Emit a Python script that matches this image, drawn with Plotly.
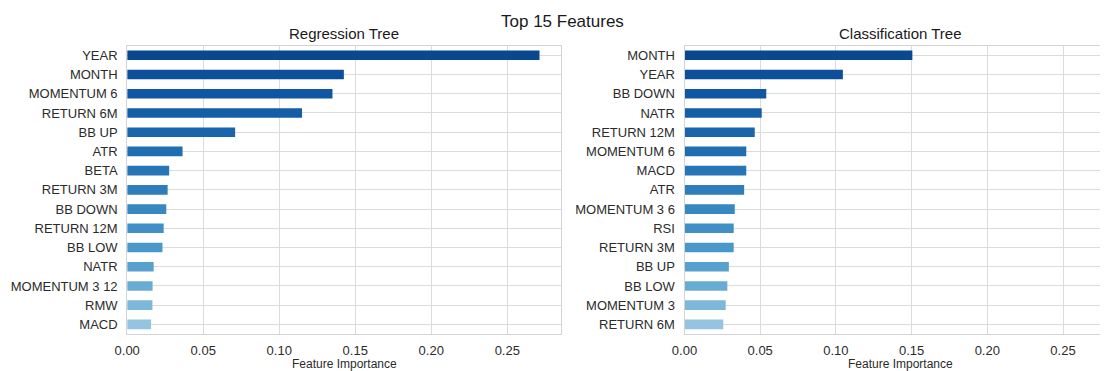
import plotly.graph_objects as go

# ---- data ----
reg_features = ["YEAR", "MONTH", "MOMENTUM 6", "RETURN 6M", "BB UP", "ATR", "BETA",
                "RETURN 3M", "BB DOWN", "RETURN 12M", "BB LOW", "NATR",
                "MOMENTUM 3 12", "RMW", "MACD"]
reg_importance = [0.2712, 0.1425, 0.1350, 0.1150, 0.0710, 0.0364, 0.0276,
                  0.0266, 0.0257, 0.0240, 0.0232, 0.0174, 0.0167, 0.0166, 0.0157]

clf_features = ["MONTH", "YEAR", "BB DOWN", "NATR", "RETURN 12M", "MOMENTUM 6", "MACD",
                "ATR", "MOMENTUM 3 6", "RSI", "RETURN 3M", "BB UP", "BB LOW",
                "MOMENTUM 3", "RETURN 6M"]
clf_importance = [0.1505, 0.1046, 0.0540, 0.0510, 0.0464, 0.0408, 0.0408,
                  0.0394, 0.0332, 0.0325, 0.0325, 0.0293, 0.0283, 0.0272, 0.0256]

x_ticks = [0.00, 0.05, 0.10, 0.15, 0.20, 0.25]
x_tick_labels = ["0.00", "0.05", "0.10", "0.15", "0.20", "0.25"]

# ---- styles ----
bar_colors = ["#09478f", "#0c4f9b", "#1056a2", "#145ea8", "#1966ad", "#1f6eb2",
              "#2676b7", "#2e7ebc", "#3787c0", "#4090c5", "#4a98c9", "#58a1ce",
              "#68acd4", "#7db8da", "#94c4df"]
PAGE_OFF = 8  # default body margin of the html page
W, H = 1108 - PAGE_OFF, 371 - PAGE_OFF
FONT = "Arial, Liberation Sans, sans-serif"
TXT = "#2b2b2b"
GRID = "#dcdcdc"
FRAME = "#d4d4d4"

def px_x(p):
    return (p - PAGE_OFF) / W

def px_y(p):
    return (H - (p - PAGE_OFF)) / H

fig = go.Figure()
fig.add_trace(go.Bar(x=reg_importance, y=reg_features, orientation="h", width=0.5,
                     marker=dict(color=bar_colors, line=dict(width=0)),
                     xaxis="x", yaxis="y", showlegend=False))
fig.add_trace(go.Bar(x=clf_importance, y=clf_features, orientation="h", width=0.5,
                     marker=dict(color=bar_colors, line=dict(width=0)),
                     xaxis="x2", yaxis="y2", showlegend=False))

ydom = [px_y(334), px_y(45.7)]
common_x = dict(tickvals=x_ticks, ticktext=x_tick_labels, showgrid=True, gridcolor=GRID,
                gridwidth=1, zeroline=False, showline=True, linecolor=FRAME, mirror=True,
                ticks="", tickfont=dict(family=FONT, size=13, color=TXT),
                ticklabelstandoff=4, automargin=False)
common_y = dict(showgrid=True, gridcolor=GRID, gridwidth=1, zeroline=False,
                showline=True, linecolor=FRAME, mirror=True, ticks="",
                tickfont=dict(family=FONT, size=13, color=TXT), ticklabelstandoff=6,
                range=[14.5, -0.5], type="category", automargin=False)

fig.update_layout(
    width=W, height=H,
    margin=dict(l=0, r=0, t=0, b=0),
    paper_bgcolor="white", plot_bgcolor="white",
    font=dict(family=FONT, color=TXT),
    xaxis=dict(domain=[px_x(127.2), px_x(560.5)], range=[0, 0.285], anchor="y", **common_x),
    yaxis=dict(domain=ydom, anchor="x", categoryorder="array",
               categoryarray=reg_features, **common_y),
    xaxis2=dict(domain=[px_x(684.5), 1.0], range=[0, (1108 - 684.5) / 1514], anchor="y2", **common_x),
    yaxis2=dict(domain=ydom, anchor="x2", categoryorder="array",
                categoryarray=clf_features, **common_y),
)

annotations = [
    dict(text="Top 15 Features", x=px_x(562.5), y=px_y(21), font=dict(size=17, color="#1a1a1a")),
    dict(text="Regression Tree", x=px_x(344), y=px_y(33), font=dict(size=15, color="#1a1a1a")),
    dict(text="Classification Tree", x=px_x(900), y=px_y(33), font=dict(size=15, color="#1a1a1a")),
    dict(text="Feature Importance", x=px_x(344), y=px_y(364), font=dict(size=12, color=TXT)),
    dict(text="Feature Importance", x=px_x(900), y=px_y(364), font=dict(size=12, color=TXT)),
]
for a in annotations:
    fig.add_annotation(xref="paper", yref="paper", xanchor="center", yanchor="middle",
                       showarrow=False, **{k: v for k, v in a.items() if k != "font"},
                       font=dict(family=FONT, **a["font"]))

fig.write_html("out.html")
